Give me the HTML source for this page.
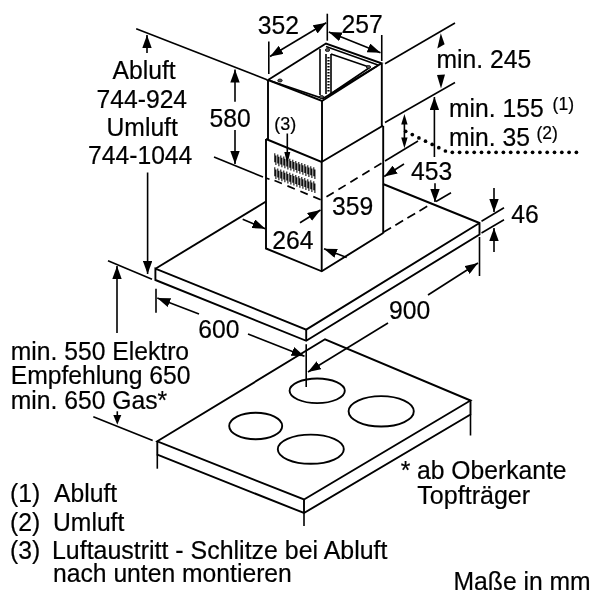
<!DOCTYPE html>
<html><head><meta charset="utf-8">
<style>
html,body{margin:0;padding:0;background:#fff;width:600px;height:600px;overflow:hidden}
svg{display:block;will-change:transform}
text{font-family:"Liberation Sans",sans-serif;fill:#000;stroke:#000;stroke-width:0.2}
.o{stroke:#000;stroke-width:1.9;fill:none;stroke-linecap:butt;stroke-linejoin:miter}
.d{stroke:#000;stroke-width:1.6;fill:none}
.ds{stroke:#000;stroke-width:1.7;fill:none;stroke-dasharray:6.5 5.5}
.ar{fill:#000;stroke:none}
</style></head>
<body>
<svg width="600" height="600" viewBox="0 0 600 600">
<defs>
<marker id="ah" viewBox="0 0 13 9.4" refX="13" refY="4.7" markerWidth="13" markerHeight="9.4" markerUnits="userSpaceOnUse" orient="auto-start-reverse">
<path d="M0,0 L13,4.7 L0,9.4 z" fill="#000"/>
</marker>
</defs>
<g font-size="24.7">
<text transform="matrix(1,0,0,1.05,257.7,33.8)">352</text>
<text transform="matrix(1,0,0,1.05,341.5,33.4)">257</text>
<text transform="matrix(1,0,0,1.05,436.5,68.4)">min. 245</text>
<text transform="matrix(1,0,0,1.05,449.0,117.4)">min. 155</text>
<text transform="matrix(1,0,0,1.05,449.0,145.5)">min. 35</text>
<text transform="matrix(1,0,0,1.05,112.5,78.90)">Abluft</text>
<text transform="matrix(1,0,0,1.05,96.5,107.90)">744-924</text>
<text transform="matrix(1,0,0,1.05,106.5,136.1)">Umluft</text>
<text transform="matrix(1,0,0,1.05,88.0,163.5)">744-1044</text>
<text transform="matrix(1,0,0,1.05,209.5,126.9)">580</text>
<text transform="matrix(1,0,0,1.05,411.0,179.70)">453</text>
<text transform="matrix(1,0,0,1.05,332.0,214.90)">359</text>
<text transform="matrix(1,0,0,1.05,272.3,249.10)">264</text>
<text transform="matrix(1,0,0,1.05,511.3,223.10)">46</text>
<text transform="matrix(1,0,0,1.05,198.2,337.60)">600</text>
<text transform="matrix(1,0,0,1.05,389.0,319.10)">900</text>
<text transform="matrix(1,0,0,1.05,10.7,359.60)">min. 550 Elektro</text>
<text transform="matrix(1,0,0,1.05,10.7,384.10)">Empfehlung 650</text>
<text transform="matrix(1,0,0,1.05,10.7,408.70)">min. 650 Gas*</text>
<text transform="matrix(1,0,0,1.05,10.0,502.4)">(1)</text><text transform="matrix(1,0,0,1.05,54.0,502.4)">Abluft</text>
<text transform="matrix(1,0,0,1.05,10.0,530.6)">(2)</text><text transform="matrix(1,0,0,1.05,53.0,530.6)">Umluft</text>
<text transform="matrix(1,0,0,1.05,10.0,558.5)">(3)</text><text transform="matrix(1.01,0,0,1.05,52.0,558.5)">Luftaustritt - Schlitze bei Abluft</text>
<text transform="matrix(1,0,0,1.05,53.0,582.3)">nach unten montieren</text>
<text transform="matrix(1,0,0,1.05,400.7,479.2)">*</text><text transform="matrix(1,0,0,1.05,417,479.1)">ab Oberkante</text>
<text transform="matrix(1.015,0,0,1.05,417.3,503.5)">Topfträger</text>
<text transform="matrix(1,0,0,1.05,453.5,589.9)">Maße in mm</text>
</g>
<g font-size="17.5">
<text transform="matrix(1,0,0,1.05,274.2,129.5)" font-size="18">(3)</text>
<text transform="matrix(1,0,0,1.05,552.6,110.40)">(1)</text>
<text transform="matrix(1,0,0,1.05,536.5,138.7)">(2)</text>
</g>

<!-- chimney upper -->
<g class="o">
<path d="M268,80 L326,43.5 L381.5,63.3 L322,101 Z"/>
<path d="M268,80 V139"/>
<path d="M322,101 V161"/>
<path d="M381.8,64 V127"/><path d="M383.2,126 V233.5"/>
<!-- lower chimney -->
<path d="M266,139 V248.5 L321.7,271.3 L383.2,233"/>
<path d="M266,139 L321.5,162 L383.2,125.5"/>
<path d="M321.7,162 V271.3"/>
<!-- hood -->
<path d="M155.4,268.7 L266,201.5"/>
<path d="M383,184 L479.5,223 V234.5 L306.2,340.8 L155.4,280 V268.7 L306.2,329.6 L479.5,223"/>
<path d="M306.2,329.6 V340.8"/>
<!-- cooktop -->
<path d="M157.3,441.3 L325,339.3 L470.5,400.5 L304,499.5 Z"/>
<path d="M157.3,441.3 V454.7 L304,513 L470.5,414.5 V400.5"/>
<path d="M304,499.5 V513"/>
</g>
<g class="d">
<ellipse cx="317.2" cy="390.8" rx="27.6" ry="12.3" stroke-width="1.9"/>
<ellipse cx="381.2" cy="411.3" rx="32.6" ry="15.2" stroke-width="1.9"/>
<ellipse cx="255.7" cy="426" rx="26.5" ry="13.2" stroke-width="1.9"/>
<ellipse cx="310.8" cy="449.2" rx="33" ry="14.6" stroke-width="1.9"/>
</g>
<path stroke="#000" stroke-width="1.05" fill="none" d="M274.8,153.3v9M275.9,155.6v9.5M277.8,154.4v9M278.9,156.7v9.5M280.8,155.5v9M281.9,157.8v9.5M283.8,156.5v9M284.9,158.8v9.5M286.8,157.6v9M287.9,159.9v9.5M289.8,158.7v9M290.9,161.0v9.5M292.8,159.8v9M293.9,162.1v9.5M295.8,160.9v9M296.9,163.2v9.5M298.8,161.9v9M299.9,164.2v9.5M301.8,163.0v9M302.9,165.3v9.5M304.8,164.1v9M305.9,166.4v9.5M307.8,165.2v9M308.9,167.5v9.5M310.8,166.3v9M311.9,168.6v9.5M313.8,167.3v9M314.9,169.6v9.5M274.8,167.3v9M275.9,169.6v9.5M277.8,168.4v9M278.9,170.7v9.5M280.8,169.5v9M281.9,171.8v9.5M283.8,170.5v9M284.9,172.8v9.5M286.8,171.6v9M287.9,173.9v9.5M289.8,172.7v9M290.9,175.0v9.5M292.8,173.8v9M293.9,176.1v9.5M295.8,174.9v9M296.9,177.2v9.5M298.8,175.9v9M299.9,178.2v9.5M301.8,177.0v9M302.9,179.3v9.5M304.8,178.1v9M305.9,180.4v9.5M307.8,179.2v9M308.9,181.5v9.5M310.8,180.3v9M311.9,182.6v9.5M313.8,181.3v9M314.9,183.6v9.5"/>
<g class="d" stroke-width="1.1">
<path d="M271,81 L323,98.5 L377,66"/>
<path d="M326,46.5 L378,65"/>
<path d="M320,49 V95"/>
<path d="M326,54 V94 M331,54 V94"/>
<path d="M331,54 L369,67 M329,95 L369,68"/>
</g>
<g fill="#000" stroke="#000" stroke-width="0.8">
<ellipse cx="280" cy="80.5" rx="2.2" ry="1.5" fill="#555"/>
<ellipse cx="321.5" cy="97" rx="2.2" ry="1.5" fill="#555"/>
<ellipse cx="327.5" cy="50" rx="2.2" ry="1.5" fill="#555"/>
<ellipse cx="368.5" cy="67" rx="2.2" ry="1.5" fill="#555"/>
</g>
<path d="M328.5,57 V93" stroke="#000" stroke-width="2.2" stroke-dasharray="1.5 1.5" fill="none"/>
<!-- dashed -->
<g class="ds">
<path d="M274.5,180.5 L321.3,200" stroke-dasharray="8 6"/><path d="M381.5,163.2 L321.3,200" stroke-dasharray="8.5 5.5"/>
<path d="M383.3,232.3 L432,203.5" stroke-dasharray="9 5"/>
</g>
<!-- extension & dimension lines -->
<g class="d">
<!-- 352 -->
<path d="M268.8,41.5 V74"/>
<path d="M327.3,13.7 V40.7"/>
<path d="M381.75,35 V61"/>
<path d="M270,56.5 L326.3,22.7" marker-start="url(#ah)" marker-end="url(#ah)"/>
<path d="M328.8,31.9 L380.5,52.8" marker-start="url(#ah)" marker-end="url(#ah)"/>
<!-- Abluft/Umluft vertical -->
<path d="M136.2,28.7 L267,79.7"/>
<path d="M147,53 V35" marker-end="url(#ah)"/>
<path d="M147.6,172.5 V274" marker-end="url(#ah)"/>
<!-- 580 -->
<path d="M235,101.7 V69.6" marker-end="url(#ah)"/>
<path d="M235,130 V164" marker-end="url(#ah)"/>
<path d="M214,157 L263,177"/><path d="M266.5,178.3 L269.5,179.3"/>
<!-- min 245 -->
<path d="M385,63.75 L455,23"/>
<path d="M385,122.5 L455,82.5"/>
<path class="ar" d="M440.8,33.3 L444.6,44.3 L437.3,48.5 Z"/>
<path class="ar" d="M441,88.5 L445,74.5 L437,75 Z"/>
<!-- min 155 -->
<path d="M434.4,157 V97" marker-end="url(#ah)"/>
<path d="M404.4,121 V141"/>
<path class="ar" d="M404.4,114 L407.6,124.5 L401.2,124.5 Z"/>
<path class="ar" d="M404.4,148.3 L407.6,137.5 L401.2,137.5 Z"/>
<path d="M385,161 L418,141"/>
<!-- 453 -->
<path d="M404,164 L384.2,176.5" marker-end="url(#ah)"/>
<path d="M435,183.3 V202" marker-end="url(#ah)"/>
<path d="M436,201.5 L451,192.7"/>
<!-- 359 -->
<path d="M346.7,257.5 L324,248.7" marker-end="url(#ah)"/>
<!-- 264 -->
<path d="M242.7,219.3 L265.3,228.7" marker-end="url(#ah)"/>
<path d="M300,222.8 L320.5,210" marker-end="url(#ah)"/>
<!-- 3 arrow -->
<path d="M287.3,133.5 V155"/><path class="ar" d="M287.3,164 L290.3,152 L284.3,152 Z"/>
<!-- 46 -->
<path d="M481.5,221.2 L504,207.8"/>
<path d="M481.5,233 L504,219.8"/>
<path d="M494,188 V212" marker-end="url(#ah)"/>
<path d="M494,252 V228" marker-end="url(#ah)"/>
<!-- 900 -->
<path d="M479.5,237 V276"/>
<path d="M428,295 L478,263" marker-end="url(#ah)"/>
<path d="M388,323 L308,372" marker-end="url(#ah)"/>
<path d="M306.2,344.2 V387"/>
<!-- 600 -->
<path d="M156,288.7 V312.7"/>
<path d="M199,314 L157.3,298" marker-end="url(#ah)"/>
<path d="M248,334 L304.5,356.2" marker-end="url(#ah)"/>
<!-- 550 -->
<path d="M108,260.7 L152,279.3"/>
<path d="M117,333 V266" marker-end="url(#ah)"/>
<path d="M93.3,416.7 L152.7,440.5"/>
<path d="M117.3,411.3 V416"/><path class="ar" d="M117.3,424.7 L121.3,415 L113.3,415 Z"/>
<path d="M157.3,454.7 V468.7"/>
<path d="M304,513 V526"/>
<path d="M470.5,414.5 V435.5"/>
<!-- dotted -->

</g>
<g fill="#000"><circle cx="405.7" cy="131.3" r="1.85"/><circle cx="412.3" cy="134.6" r="1.85"/><circle cx="418.9" cy="137.9" r="1.85"/><circle cx="425.5" cy="141.2" r="1.85"/><circle cx="432.2" cy="144.4" r="1.85"/><circle cx="438.8" cy="147.7" r="1.85"/><circle cx="445.4" cy="151.0" r="1.85"/><circle cx="452.3" cy="152.3" r="1.85"/><circle cx="459.6" cy="152.3" r="1.85"/><circle cx="466.9" cy="152.3" r="1.85"/><circle cx="474.2" cy="152.3" r="1.85"/><circle cx="481.5" cy="152.3" r="1.85"/><circle cx="488.8" cy="152.3" r="1.85"/><circle cx="496.1" cy="152.3" r="1.85"/><circle cx="503.4" cy="152.3" r="1.85"/><circle cx="510.7" cy="152.3" r="1.85"/><circle cx="518.0" cy="152.3" r="1.85"/><circle cx="525.3" cy="152.3" r="1.85"/><circle cx="532.6" cy="152.3" r="1.85"/><circle cx="539.9" cy="152.3" r="1.85"/><circle cx="547.2" cy="152.3" r="1.85"/><circle cx="554.5" cy="152.3" r="1.85"/><circle cx="561.8" cy="152.3" r="1.85"/><circle cx="569.1" cy="152.3" r="1.85"/><circle cx="576.4" cy="152.3" r="1.85"/></g>
</svg>
</body></html>
